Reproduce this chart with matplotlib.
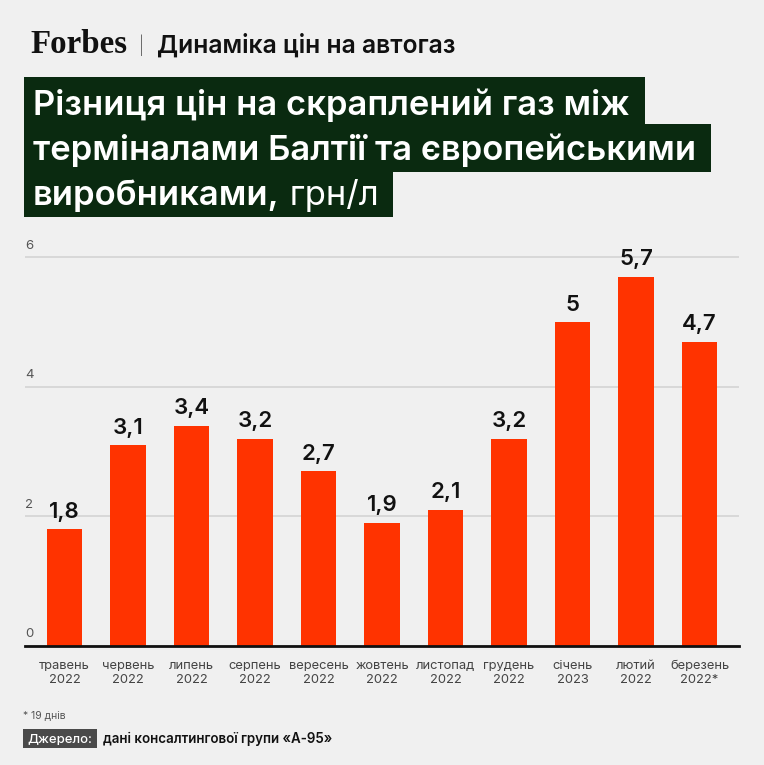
import matplotlib
matplotlib.use("Agg")
import matplotlib.pyplot as plt
from matplotlib.patches import Rectangle

# Дані
misyatsi = ["травень", "червень", "липень", "серпень", "вересень", "жовтень",
            "листопад", "грудень", "січень", "лютий", "березень"]
roky = ["2022", "2022", "2022", "2022", "2022", "2022",
        "2022", "2022", "2023", "2022", "2022*"]
riznytsia = [1.8, 3.1, 3.4, 3.2, 2.7, 1.9, 2.1, 3.2, 5.0, 5.7, 4.7]
y_tiky = [0, 2, 4, 6]

W, H = 764, 765
tlo = "#f0f0f0"
chervonyi = "#ff3300"
zelenyi = "#0a2a10"

plt.rcParams["font.family"] = ["Inter", "DejaVu Sans"]

fig = plt.figure(figsize=(W / 100, H / 100), dpi=100)
fig.patch.set_facecolor(tlo)
renderer = fig.canvas.get_renderer()


def px(x, y):
    # піксельні координати -> частки фігури
    return x / W, 1 - y / H


def pidignaty(t, shyryna):
    # підбираємо розмір шрифту під потрібну ширину тексту
    w = t.get_window_extent(renderer).width
    t.set_fontsize(t.get_fontsize() * shyryna / w)


# Шапка
logo = fig.text(*px(30, 53), "Forbes", family=["Liberation Serif"], fontweight="bold",
                fontsize=24, color="#111111", va="baseline")
pidignaty(logo, 97)
fig.text(*px(139, 52), "|", fontsize=13, fontweight="light", color="#444444", va="baseline")
shapka = fig.text(*px(157, 53), "Динаміка цін на автогаз", fontsize=16, fontweight="semibold",
                  color="#111111", va="baseline")
pidignaty(shapka, 300)

# Заголовок на темно-зеленому тлі
riadky = [("Різниця цін на скраплений газ між", None, 77, 124, 115),
          ("терміналами Балтії та європейськими", None, 124, 172, 160),
          ("виробниками,", " грн/л", 172, 217, 205)]
rozmir = None
for bold_txt, reg_txt, y0, y1, base in riadky:
    t = fig.text(*px(33, base), bold_txt, fontsize=24, fontweight="semibold",
                 color="white", va="baseline", zorder=3)
    if rozmir is None:
        pidignaty(t, 595)
        rozmir = t.get_fontsize()
    t.set_fontsize(rozmir)
    kinets = t.get_window_extent(renderer).x1
    if reg_txt:
        t2 = fig.text(kinets / W, 1 - base / H, reg_txt, fontsize=rozmir,
                      fontweight="normal", color="white", va="baseline", zorder=3)
        kinets = t2.get_window_extent(renderer).x1
    fig.patches.append(Rectangle(px(24, y1), (kinets + 15 - 24) / W, (y1 - y0) / H,
                                 transform=fig.transFigure, facecolor=zelenyi,
                                 edgecolor="none", zorder=1))

# Графік
ax = fig.add_axes([25 / W, (H - 646) / H, 714 / W, (646 - 238) / H])
ax.set_facecolor(tlo)
x = list(range(len(riznytsia)))
ax.bar(x, riznytsia, width=0.56, color=chervonyi, zorder=2)

for xi, v in zip(x, riznytsia):
    ax.annotate(f"{v:g}".replace(".", ","), (xi, v), xytext=(0, 5.5),
                textcoords="offset points", ha="center", va="bottom",
                fontsize=16, fontweight="semibold", color="#111111")

ax.set_xlim(-0.622, 10.622)
ax.set_ylim(0, 6.3)
ax.set_yticks(y_tiky)
ax.set_yticklabels([])
ax.tick_params(axis="y", length=0)
ax.grid(axis="y", color="#d4d4d4", linewidth=1.2)
ax.set_axisbelow(True)
for yt in y_tiky:
    ax.annotate(str(yt), (-0.622, yt), xytext=(0, 4), textcoords="offset points",
                ha="left", va="bottom", fontsize=9.5, color="#555555")

ax.set_xticks(x)
ax.set_xticklabels([f"{m}\n{r}" for m, r in zip(misyatsi, roky)],
                   fontsize=9.3, color="#444444", linespacing=1.2)
ax.tick_params(axis="x", length=0, pad=10)

for s in ["top", "right", "left"]:
    ax.spines[s].set_visible(False)
ax.spines["bottom"].set_color("#111111")
ax.spines["bottom"].set_linewidth(2)

# Примітка та джерело
fig.text(*px(23, 718), "* 19 днів", fontsize=7.5, color="#555555", va="baseline")
dz = fig.text(*px(27, 743), "Джерело:", fontsize=11, fontweight="medium", color="white",
              va="baseline", zorder=3)
pidignaty(dz, 65)
fig.patches.append(Rectangle(px(22.5, 748), 74 / W, 19 / H, transform=fig.transFigure,
                             facecolor="#4a4a4a", edgecolor="none", zorder=1))
dani = fig.text(*px(103, 743), "дані консалтингової групи «А-95»", fontsize=11,
                fontweight="semibold", color="#111111", va="baseline")
pidignaty(dani, 230)

fig.savefig("out.png", dpi=100, facecolor=tlo)
